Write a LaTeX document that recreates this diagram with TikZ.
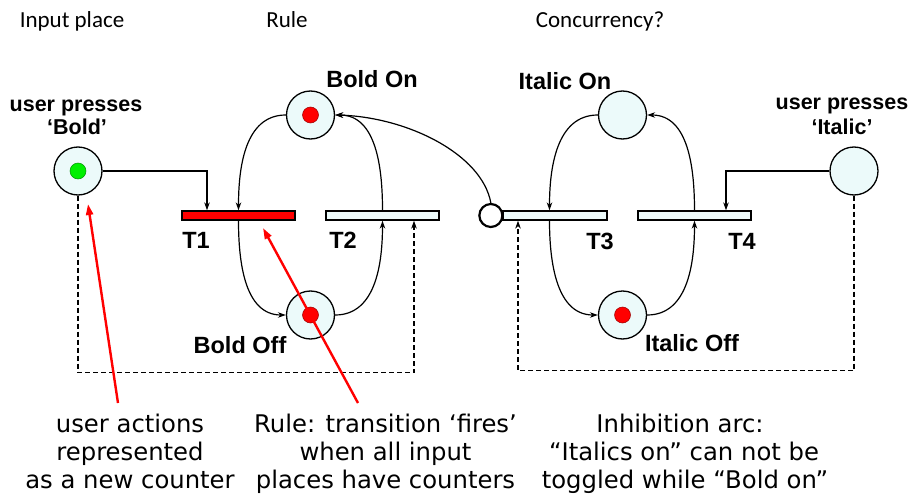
\documentclass[tikz,border=0pt]{standalone}
\usepackage{fontspec}
\newfontfamily\carlito{Carlito}
\newfontfamily\lsans{Liberation Sans}
\newfontfamily\dvs{DejaVu Sans}
\usetikzlibrary{arrows.meta}
\definecolor{placefill}{RGB}{236,250,250}
\definecolor{tokred}{RGB}{255,0,0}
\definecolor{tokgreen}{RGB}{0,240,0}
\tikzset{
  place/.style={circle, draw, line width=1.3pt, fill=placefill, minimum size=48pt, inner sep=0pt},
  trans/.style={rectangle, draw, line width=1.3pt, fill=placefill, minimum width=113pt, minimum height=9pt, inner sep=0pt},
  token/.style={circle, fill=#1, draw=black!40!#1, line width=0.5pt, minimum size=16pt, inner sep=0pt},
  inhib/.style={circle, draw, line width=2.2pt, fill=white, minimum size=23pt, inner sep=0pt},
  parc/.style={line width=1.2pt, -{Stealth[length=8pt,width=5.5pt]}},
  dasharc/.style={line width=1.4pt, dash pattern=on 5pt off 3pt, -{Stealth[length=8pt,width=5.5pt]}},
  redarrow/.style={line width=2.4pt, draw=tokred, -{Triangle[length=11pt,width=7pt]}},
  lbl/.style={font=\lsans\bfseries\fontsize{21.5}{24}\selectfont, inner sep=0pt, anchor=base},
  slbl/.style={font=\lsans\bfseries\fontsize{23.5}{26}\selectfont, inner sep=0pt, anchor=base},
  toplbl/.style={font=\carlito\fontsize{23}{26}\selectfont, inner sep=0pt, anchor=base},
  note/.style={font=\dvs\fontsize{24.3}{28}\selectfont, inner sep=0pt, anchor=base},
}
\begin{document}
\begin{tikzpicture}[x=1pt,y=-1pt]
\useasboundingbox (0,0) rectangle (911,495);

% top labels
\node[toplbl] (tl1) at (72,28) {Input place};
\node[toplbl] (tl2) at (287,28) {Rule};
\node[toplbl] (tl3) at (600,28) {Concurrency?};

% places
\node[place] (ub) at (78,171) {};
\node[token=tokgreen] (ubt) at (ub) {};
\node[place] (bon) at (310.5,115) {};
\node[token=tokred] (bont) at (bon) {};
\node[place] (boff) at (310.5,315) {};
\node[token=tokred] (bofft) at (boff) {};
\node[place] (ion) at (622.5,115) {};
\node[place] (ioff) at (622.5,315) {};
\node[token=tokred] (iofft) at (ioff) {};
\node[place] (ui) at (854,171) {};

% transitions
\node[trans, fill=tokred] (t1) at (238.5,215.5) {};
\node[trans] (t2) at (382.5,215.5) {};
\node[trans, minimum width=104pt] (t3) at (555,215.5) {};
\node[trans] (t4) at (694.5,215.5) {};
\node[inhib] (inh) at (t3.west) [xshift=-11.5pt] {};

% labels
\node[lbl] (lub1) at (76,111) {user presses};
\node[lbl] (lub2) at (77,135) {‘Bold’};
\node[lbl] (lui1) at (842,110) {user presses};
\node[lbl] (lui2) at (842,134) {‘Italic’};
\node[slbl] (lbon) at (372,88) {Bold On};
\node[slbl] (lboff) at (240,353) {Bold Off};
\node[slbl] (lion) at (565,89) {Italic On};
\node[slbl] (lioff) at (692,351) {Italic Off};
\node[slbl] (lt1) at (196,248) {T1};
\node[slbl] (lt2) at (343,248) {T2};
\node[slbl] (lt3) at (600,249) {T3};
\node[slbl] (lt4) at (742,249) {T4};

% arcs, bold side
\draw[parc] (ub.east) -| ([xshift=-31.5pt]t1.north);
\draw[parc] (bon.west) to[out=180,in=90] (t1.north);
\draw[parc] (t1.south) to[out=-90,in=180] (boff.west);
\draw[parc] (boff.east) to[out=0,in=-90] (t2.south);
\draw[parc] (t2.north) to[out=90,in=0] (bon.east);
\draw[dasharc] (ub.south) -- ++(0,177) -| ([xshift=31.5pt]t2.south);

% arcs, italic side
\draw[parc] (ui.west) -| ([xshift=31.5pt]t4.north);
\draw[parc] (ion.west) to[out=180,in=90] ([xshift=-5.5pt]t3.north);
\draw[parc] ([xshift=-5.5pt]t3.south) to[out=-90,in=180] (ioff.west);
\draw[parc] (ioff.east) to[out=0,in=-90] (t4.south);
\draw[parc] (t4.north) to[out=90,in=0] (ion.east);
\draw[dasharc] (ui.south) -- ++(0,175) -| ([xshift=-37pt]t3.south);

% inhibition arc
\draw[parc] (inh.north) .. controls (482,154) and (407,117) .. (bon.east);

% red annotation arrows
\coordinate (r1s) at (118,403);
\coordinate (r1e) at (88,204);
\coordinate (r2s) at (358,403);
\coordinate (r2e) at (263,228);
\draw[redarrow] (r1s) -- (r1e);
\draw[redarrow] (r2s) -- (r2e);

% notes
\node[note] (n11) at (130,432) {user actions};
\node[note] (n12) at (130,460) {represented};
\node[note] (n13) at (130,488) {as a new counter};
\node[note] (n21) at (385.5,432) {Rule: transition ‘fires’};
\node[note] (n22) at (385.5,460) {when all input};
\node[note] (n23) at (385.5,488) {places have counters};
\node[note] (n31) at (680,432) {Inhibition arc:};
\node[note] (n32) at (684,460) {“Italics on” can not be};
\node[note] (n33) at (685,488) {toggled while “Bold on”};
\end{tikzpicture}
\end{document}
